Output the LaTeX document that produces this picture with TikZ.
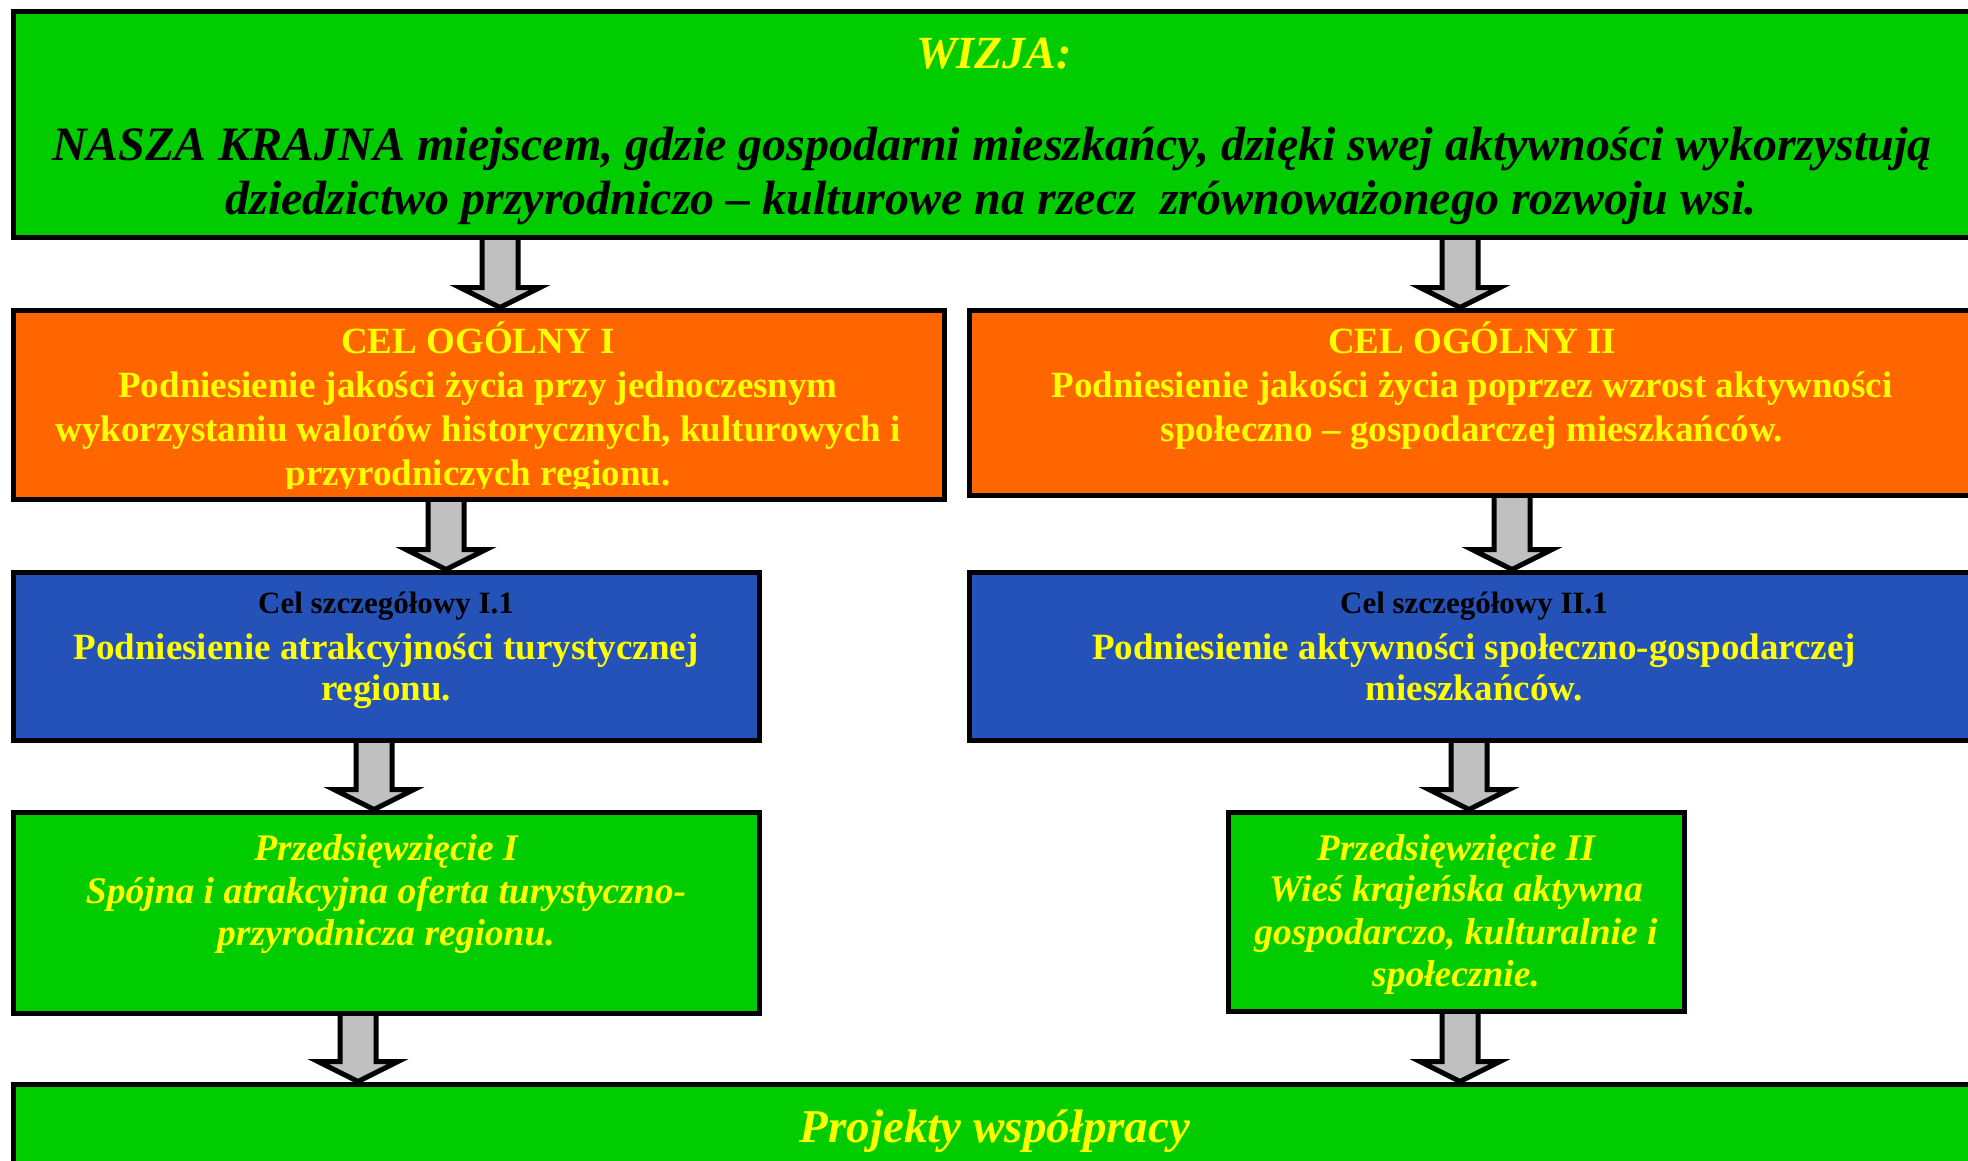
\documentclass[tikz,border=0pt]{standalone}
\usepackage{fontspec}
\setmainfont{Liberation Serif}
\usetikzlibrary{calc}
\definecolor{grn}{HTML}{00CC00}
\definecolor{org}{HTML}{FF6600}
\definecolor{blu}{HTML}{2452B8}
\definecolor{ylw}{HTML}{FFFF00}
\definecolor{gry}{HTML}{C0C0C0}
\pgfdeclarelayer{bg}
\pgfsetlayers{bg,main}
\newcommand\fBig{\fontsize{46bp}{54bp}\selectfont\bfseries\itshape}
\newcommand\fBigL{\fontsize{48bp}{54bp}\selectfont\bfseries\itshape}
\newcommand\fMidB{\fontsize{37bp}{44bp}\selectfont\bfseries}
\newcommand\fMidBI{\fontsize{37.5bp}{44bp}\selectfont\bfseries\itshape}
\newcommand\fSmB{\fontsize{31bp}{36bp}\selectfont\bfseries}
\newcommand\fBot{\fontsize{47bp}{56bp}\selectfont\bfseries\itshape}
\tikzset{
  boxst/.style={draw=black, line width=5bp, inner sep=0pt},
  arrst/.style={draw=black, fill=gry, line width=5bp, line join=miter},
  ty/.style={inner sep=0pt, anchor=base, text=ylw},
  tk/.style={inner sep=0pt, anchor=base, text=black},
}
\newcommand\mkbox[6]{\node[boxst, fill=#2, minimum width={(#5-#3)*1bp}, minimum height={(#6-#4)*1bp}] (#1) at ({(#3+#5)/2},{(#4+#6)/2}) {};}
\newcommand\barr[3]{%
  \coordinate (ax) at (#3,0);
  \draw[arrst] ($(#1.south -| ax)+(-18,-6)$) -- ($(#2.north -| ax)+(-18,-20)$) -- ++(-22,0)
    -- (#2.north -| ax) -- ++(40,-20) -- ++(-22,0) -- ($(#1.south -| ax)+(18,-6)$) -- cycle;}
\begin{document}
\begin{tikzpicture}[x=1bp,y=-1bp]
\clip (0,0) rectangle (1968,1160);
\begin{pgfonlayer}{bg}
\fill[white] (0,0) rectangle (1968,1160);
\end{pgfonlayer}
% boxes
\mkbox{top}{grn}{13}{11}{1975}{237}
\mkbox{o1}{org}{13}{310}{944}{499}
\mkbox{o2}{org}{969}{310}{1975}{495}
\mkbox{b1}{blu}{13}{572}{759}{740}
\mkbox{b2}{blu}{969}{572}{1975}{740}
\mkbox{g1}{grn}{13}{812}{759}{1013}
\mkbox{g2}{grn}{1228}{812}{1684}{1011}
\mkbox{bot}{grn}{13}{1084}{1975}{1220}
% arrows
\begin{pgfonlayer}{bg}
\barr{top}{o1}{500}
\barr{top}{o2}{1460}
\barr{o1}{b1}{446}
\barr{o2}{b2}{1512}
\barr{b1}{g1}{374}
\barr{b2}{g2}{1469}
\barr{g1}{bot}{358}
\barr{g2}{bot}{1460}
\end{pgfonlayer}
% texts: vision
\node[ty, font=\fBig] (wz) at (994,68) {WIZJA:};
\node[tk, font=\fBigL] (wz1) at (992,160) {NASZA KRAJNA miejscem, gdzie gospodarni mieszkańcy, dzięki swej aktywności wykorzystują};
\node[tk, font=\fBigL] (wz2) at (991,214) {dziedzictwo przyrodniczo – kulturowe na rzecz \ zrównoważonego rozwoju wsi.};
% general goal I
\begin{scope}
\clip (13,313) rectangle (944,488);
\node[ty, font=\fMidB] (o1a) at (478,353) {CEL OGÓLNY I};
\node[ty, font=\fMidB] (o1b) at (478,397) {Podniesienie jakości życia przy jednoczesnym};
\node[ty, font=\fMidB] (o1c) at (478,441) {wykorzystaniu walorów historycznych, kulturowych i};
\node[ty, font=\fMidB] (o1d) at (478,485) {przyrodniczych regionu.};
\end{scope}
% general goal II
\node[ty, font=\fMidB] (o2a) at (1472,353) {CEL OGÓLNY II};
\node[ty, font=\fMidB] (o2b) at (1472,397) {Podniesienie jakości życia poprzez wzrost aktywności};
\node[ty, font=\fMidB] (o2c) at (1472,441) {społeczno – gospodarczej mieszkańców.};
% specific goals
\node[tk, font=\fSmB] (b1a) at (386,613) {Cel szczegółowy I.1};
\node[ty, font=\fMidB] (b1b) at (386,659) {Podniesienie atrakcyjności turystycznej};
\node[ty, font=\fMidB] (b1c) at (386,700) {regionu.};
\node[tk, font=\fSmB] (b2a) at (1474,613) {Cel szczegółowy II.1};
\node[ty, font=\fMidB] (b2b) at (1474,659) {Podniesienie aktywności społeczno-gospodarczej};
\node[ty, font=\fMidB] (b2c) at (1474,700) {mieszkańców.};
% undertakings
\node[ty, font=\fMidBI] (g1a) at (386,860) {Przedsięwzięcie I};
\node[ty, font=\fMidBI] (g1b) at (386,903) {Spójna i atrakcyjna oferta turystyczno-};
\node[ty, font=\fMidBI] (g1c) at (386,945) {przyrodnicza regionu.};
\node[ty, font=\fMidBI] (g2a) at (1456,860) {Przedsięwzięcie II};
\node[ty, font=\fMidBI] (g2b) at (1456,901) {Wieś krajeńska aktywna};
\node[ty, font=\fMidBI] (g2c) at (1456,944) {gospodarczo, kulturalnie i};
\node[ty, font=\fMidBI] (g2d) at (1456,986) {społecznie.};
% bottom
\node[ty, font=\fBot] (pw) at (995,1142) {Projekty współpracy};
\end{tikzpicture}
\end{document}
